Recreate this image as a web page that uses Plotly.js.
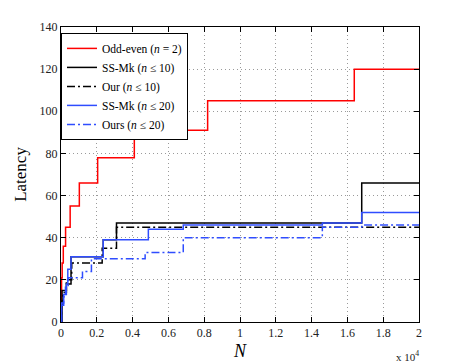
<!DOCTYPE html>
<html>
<head>
<meta charset="utf-8">
<script src="https://cdn.plot.ly/plotly-3.0.1.min.js"></script>
<style>
  html, body { margin: 0; padding: 0; background: #fff; }
  #chart { width: 463px; height: 364px; }
</style>
</head>
<body>
<div id="chart"></div>
<script>
// step curves: N where each step starts, latency held until the next N
const oddEvenN = [1, 2, 4, 8, 16, 32, 64, 128, 256, 512, 1024, 2048, 4096, 8192, 16384, 20000];
const oddEvenLat = [1, 3, 6, 10, 15, 21, 28, 36, 45, 55, 66, 78, 91, 105, 120, 120];

const ssmk10N = [0, 60, 300, 560, 2360, 3100, 16800, 20000];
const ssmk10Lat = [0, 15, 18, 31, 39, 47, 66, 66];

const our10N = [0, 20, 100, 300, 600, 2300, 3100, 20000];
const our10Lat = [0, 10, 14, 20, 28, 35, 45, 45];

const ssmk20N = [0, 30, 150, 300, 380, 560, 2360, 4880, 6830, 14600, 16800, 20000];
const ssmk20Lat = [0, 8, 13, 18, 25, 31, 39, 44, 46, 47, 52, 52];

const ours20N = [0, 30, 150, 250, 400, 1200, 1700, 4700, 6830, 14600, 16800, 20000];
const ours20Lat = [0, 9, 12, 17, 21, 24, 30, 33, 40, 45, 46, 46];

const blue = '#2f4dff';
const dashDot = '8px,3px,2px,3px';

function stepTrace(nVals, lat, name, color, dash) {
  return {
    x: nVals.map(v => v / 1e4),
    y: lat,
    type: 'scatter',
    mode: 'lines',
    name: name,
    line: { color: color, width: 1.5, shape: 'hv', dash: dash }
  };
}

const data = [
  stepTrace(oddEvenN, oddEvenLat, 'Odd-even (<i>n</i> = 2)', '#ff0000', 'solid'),
  stepTrace(ssmk10N, ssmk10Lat, 'SS-Mk (<i>n</i> ≤ 10)', '#000000', 'solid'),
  stepTrace(our10N, our10Lat, 'Our (<i>n</i> ≤ 10)', '#000000', dashDot),
  stepTrace(ssmk20N, ssmk20Lat, 'SS-Mk (<i>n</i> ≤ 20)', blue, 'solid'),
  stepTrace(ours20N, ours20Lat, 'Ours (<i>n</i> ≤ 20)', blue, dashDot)
];

const axisCommon = {
  showline: true,
  linecolor: '#000',
  linewidth: 1,
  mirror: 'allticks',
  ticks: 'inside',
  ticklen: 5,
  tickcolor: '#000',
  showgrid: true,
  gridcolor: '#9a9a9a',
  griddash: '1px,3px',
  gridwidth: 1,
  zeroline: false,
  tickfont: { family: 'Liberation Serif', size: 12, color: '#222' }
};

const layout = {
  width: 463,
  height: 364,
  margin: { l: 61, r: 44, t: 27, b: 42 },
  paper_bgcolor: '#fff',
  plot_bgcolor: '#fff',
  font: { family: 'Liberation Serif', color: '#000' },
  showlegend: true,
  legend: {
    x: 0, y: 0.98, xanchor: 'left', yanchor: 'top',
    bgcolor: '#fff', bordercolor: '#000', borderwidth: 1,
    font: { family: 'Liberation Serif', size: 11.5, color: '#000' },
    tracegroupgap: 0
  },
  xaxis: Object.assign({}, axisCommon, {
    range: [0, 2],
    tickvals: [0, 0.2, 0.4, 0.6, 0.8, 1, 1.2, 1.4, 1.6, 1.8, 2],
    ticktext: ['0', '0.2', '0.4', '0.6', '0.8', '1', '1.2', '1.4', '1.6', '1.8', '2'],
    title: { text: '<i>N</i>', font: { family: 'Liberation Serif', size: 18 }, standoff: 4 }
  }),
  yaxis: Object.assign({}, axisCommon, {
    range: [0, 140],
    tickvals: [0, 20, 40, 60, 80, 100, 120, 140],
    title: { text: 'Latency', font: { family: 'Liberation Serif', size: 17 }, standoff: 8 }
  }),
  annotations: [{
    xref: 'paper', yref: 'paper', x: 1.005, y: -0.085,
    xanchor: 'right', yanchor: 'top', showarrow: false,
    text: 'x 10<sup>4</sup>',
    font: { family: 'Liberation Serif', size: 11, color: '#222' }
  }]
};

Plotly.newPlot('chart', data, layout, { displayModeBar: false, staticPlot: true });
</script>
</body>
</html>
